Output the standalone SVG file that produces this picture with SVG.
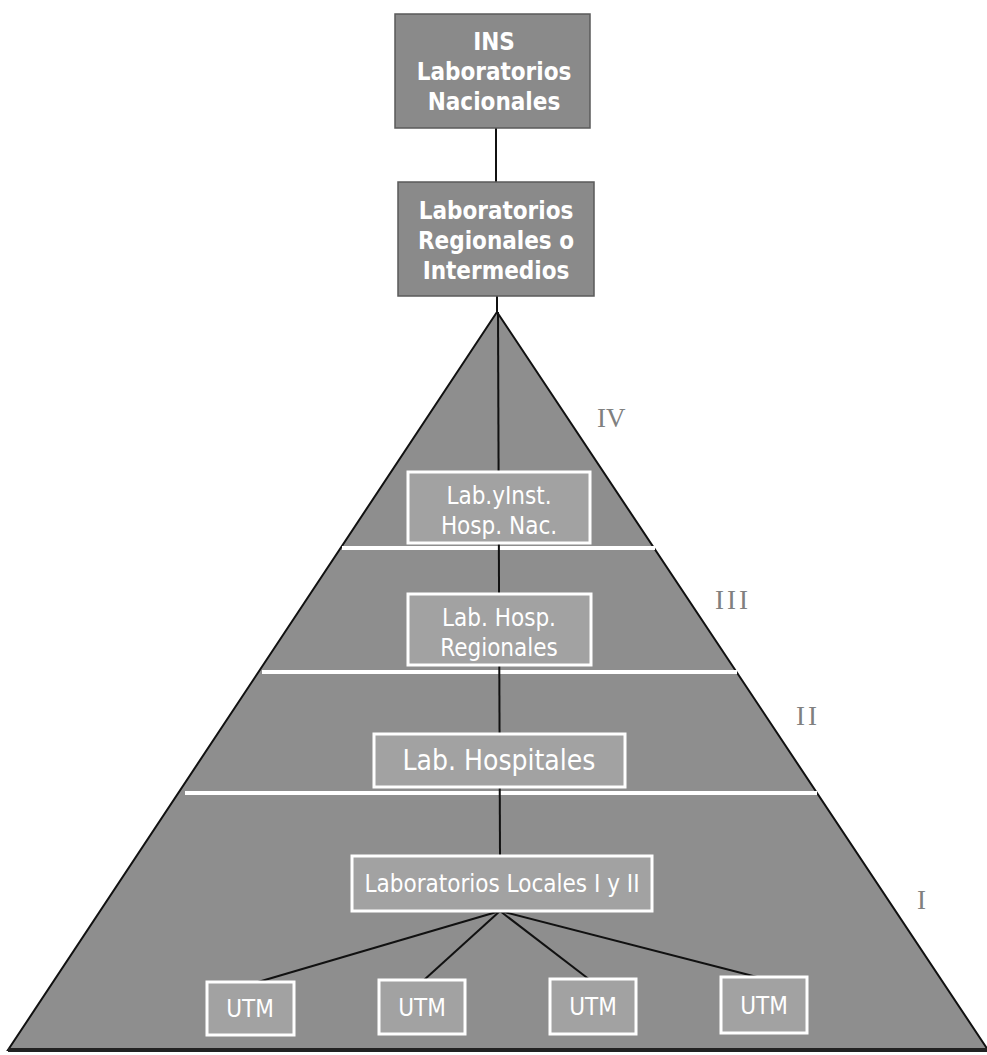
<svg xmlns="http://www.w3.org/2000/svg" width="987" height="1055" viewBox="0 0 987 1055">
<style>
.top{fill:#8a8a8a;stroke:#5a5a5a;stroke-width:1.5}
.topt{font-family:"DejaVu Sans Condensed","DejaVu Sans",sans-serif;font-weight:bold;font-size:24px;fill:#fff;text-anchor:middle}
.in{fill:#a2a2a2;stroke:#fff;stroke-width:3}
.int{font-family:"DejaVu Sans Condensed","DejaVu Sans",sans-serif;font-size:24px;fill:#fff;text-anchor:middle}
.lvl{font-family:"Liberation Serif",serif;font-size:27px;fill:#808080;letter-spacing:3px}
.con{stroke:#111;stroke-width:2;fill:none}
.sep{stroke:#fff;stroke-width:4}
</style>
<rect width="987" height="1055" fill="#fff"/>
<g id="pyramid">
<polygon points="497,312 8,1050 988,1050" fill="#8e8e8e" stroke="#111" stroke-width="2"/>
<line x1="8" y1="1050" x2="988" y2="1050" stroke="#222" stroke-width="4"/>
<line class="sep" x1="342" y1="548" x2="655" y2="548"/>
<line class="sep" x1="262" y1="672" x2="737" y2="672"/>
<line class="sep" x1="185" y1="793" x2="817" y2="793"/>
</g>
<g id="connectors">
<line class="con" x1="496" y1="128" x2="496" y2="182"/>
<line class="con" x1="497" y1="296" x2="497" y2="312"/>
<line class="con" x1="498" y1="312" x2="500" y2="856"/>
<line class="con" x1="500" y1="911" x2="258" y2="982"/>
<line class="con" x1="500" y1="911" x2="424" y2="980"/>
<line class="con" x1="500" y1="911" x2="590" y2="980"/>
<line class="con" x1="500" y1="911" x2="757" y2="977"/>
</g>
<g id="ins">
<rect class="top" x="395" y="14" width="195" height="114"/>
<text class="topt" x="494" y="50">INS</text>
<text class="topt" x="494" y="80">Laboratorios</text>
<text class="topt" x="494" y="110">Nacionales</text>
</g>
<g id="regionales">
<rect class="top" x="398" y="182" width="196" height="114"/>
<text class="topt" x="496" y="219">Laboratorios</text>
<text class="topt" x="496" y="249">Regionales o</text>
<text class="topt" x="496" y="279">Intermedios</text>
</g>
<g id="nivel4">
<rect class="in" x="408" y="472" width="182" height="71"/>
<text class="int" x="499" y="504">Lab.yInst.</text>
<text class="int" x="499" y="534">Hosp. Nac.</text>
</g>
<g id="nivel3">
<rect class="in" x="408" y="594" width="183" height="71"/>
<text class="int" x="499" y="626">Lab. Hosp.</text>
<text class="int" x="499" y="656">Regionales</text>
</g>
<g id="nivel2">
<rect class="in" x="374" y="734" width="251" height="53"/>
<text class="int" x="499" y="770" style="font-size:28px">Lab. Hospitales</text>
</g>
<g id="nivel1">
<rect class="in" x="352" y="856" width="300" height="55"/>
<text class="int" x="502" y="892">Laboratorios Locales I y II</text>
</g>
<g id="utm1"><rect class="in" x="207" y="982" width="87" height="53"/><text class="int" x="250" y="1017">UTM</text></g>
<g id="utm2"><rect class="in" x="379" y="980" width="86" height="54"/><text class="int" x="422" y="1016">UTM</text></g>
<g id="utm3"><rect class="in" x="550" y="979" width="86" height="55"/><text class="int" x="593" y="1015">UTM</text></g>
<g id="utm4"><rect class="in" x="721" y="977" width="86" height="56"/><text class="int" x="764" y="1014">UTM</text></g>
<g id="labels">
<text class="lvl" x="597" y="427" style="letter-spacing:0">IV</text>
<text class="lvl" x="715" y="609">III</text>
<text class="lvl" x="796" y="725">II</text>
<text class="lvl" x="917" y="909">I</text>
</g>
</svg>
